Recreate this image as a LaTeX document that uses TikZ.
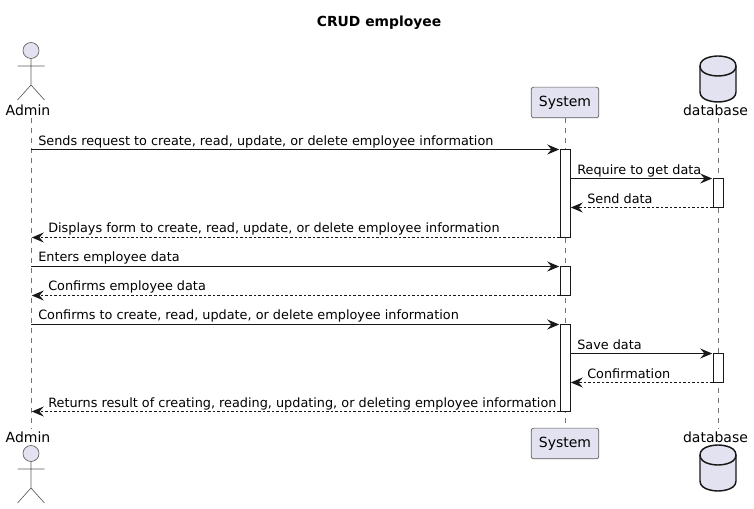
\documentclass[tikz,border=0pt]{standalone}
\usepackage{fontspec}
\setmainfont{DejaVu Sans}
\usetikzlibrary{arrows.meta}
\definecolor{partfill}{HTML}{E2E2F0}
\definecolor{partline}{HTML}{181818}
\tikzset{
	lifeline/.style={draw=partline!60,line width=0.5pt,dash pattern=on 3.75pt off 3.75pt},
	msg/.style={draw=partline,line width=0.75pt,-{Stealth[length=9pt,width=7.5pt,inset=3.2pt]},shorten >=0.6pt},
	reply/.style={msg,dash pattern=on 1.9pt off 1.5pt},
	msgtext/.style={anchor=base west,inner sep=0pt,font=\fontsize{9.62}{12}\selectfont,text=black},
	parttext/.style={inner sep=0pt,font=\fontsize{10.5}{12}\selectfont,text=black},
	sysbox/.style={draw=partline!70,line width=0.5pt,fill=partfill,rounded corners=1.8pt,minimum width=50.6pt,minimum height=23pt,inner sep=0pt,font=\fontsize{10.5}{12}\selectfont},
	actbox/.style={draw=partline,line width=0.75pt,fill=white,minimum width=7.5pt,inner sep=0pt,outer sep=0pt},
	admin/.pic={
		\draw[draw=partline!70,line width=0.5pt,fill=partfill] (0,0) circle [radius=6pt];
		\draw[draw=partline!70,line width=0.5pt] (0,8) -- (0,34.5) (-13.5,15.5) -- (13.5,15.5) (-13.5,49.5) -- (0,34.5) -- (13.5,49.5);
	},
	dbcyl/.pic={
		\draw[draw=partline,line width=1.1pt,fill=partfill] (-18,0) .. controls (-18,-10) and (0,-10) .. (0,-10) .. controls (0,-10) and (18,-10) .. (18,0) -- (18,26) .. controls (18,36) and (0,36) .. (0,36) .. controls (0,36) and (-18,36) .. (-18,26) -- cycle;
		\draw[draw=partline,line width=1.1pt] (-18,0) .. controls (-18,10) and (0,10) .. (0,10) .. controls (0,10) and (18,10) .. (18,0);
	}
}
\begin{document}
\begin{tikzpicture}[x=0.75pt,y=-0.75pt]
	\useasboundingbox (0,0) rectangle (754,509);
	
	\node[inner sep=0pt,font=\fontsize{10.4}{12}\selectfont\bfseries] (title) at (379,23) {CRUD employee};
	
	% lifelines
	\coordinate (adminTop) at (31,118);
	\coordinate (adminBot) at (31,429);
	\coordinate (systemTop) at (565,118);
	\coordinate (systemBot) at (565,428);
	\coordinate (dbTop) at (718,118);
	\coordinate (dbBot) at (718,429);
	\draw[lifeline] (adminTop) -- (adminBot);
	\draw[lifeline] (systemTop) -- (systemBot);
	\draw[lifeline] (dbTop) -- (dbBot);
	
	% participants
	\pic at (31,50.5) {admin};
	\node[parttext] (adminHead) at (28,110) {Admin};
	\pic at (31,453.5) {admin};
	\node[parttext] (adminFoot) at (28,437) {Admin};
	\node[sysbox] (systemHead) at (565,102.5) {System};
	\node[sysbox] (systemFoot) at (565,443.5) {System};
	\pic at (718,66) {dbcyl};
	\node[parttext] (dbHead) at (715.5,110) {database};
	\pic at (718,455) {dbcyl};
	\node[parttext] (dbFoot) at (715.5,437) {database};
	
	% activations
	\node[actbox,minimum height=66pt] (sysA) at (565,193.5) {};
	\node[actbox,minimum height=21.75pt] (sysB) at (565,281) {};
	\node[actbox,minimum height=65.25pt] (sysC) at (565,368) {};
	\node[actbox,minimum height=21.75pt] (dbA) at (718,193) {};
	\node[actbox,minimum height=21.75pt] (dbB) at (718,368) {};
	
	% message ends
	\coordinate (ad1) at (adminTop |- sysA.north);
	\coordinate (ad2) at (adminTop |- sysA.south);
	\coordinate (ad3) at (adminTop |- sysB.north);
	\coordinate (ad4) at (adminTop |- sysB.south);
	\coordinate (ad5) at (adminTop |- sysC.north);
	\coordinate (ad6) at (adminTop |- sysC.south);
	\coordinate (sy1) at (sysA.east |- dbA.north);
	\coordinate (sy2) at (sysA.east |- dbA.south);
	\coordinate (sy3) at (sysC.east |- dbB.north);
	\coordinate (sy4) at (sysC.east |- dbB.south);
	
	% messages
	\draw[msg] (ad1) -- (sysA.north west);
	\node[msgtext] (m1) at (38,146) {Sends request to create, read, update, or delete employee information};
	\draw[msg] (sy1) -- (dbA.north west);
	\node[msgtext] (m2) at (577,175) {Require to get data};
	\draw[reply] (dbA.south west) -- (sy2);
	\node[msgtext] (m3) at (587,204) {Send data};
	\draw[reply] (sysA.south west) -- (ad2);
	\node[msgtext] (m4) at (48,233) {Displays form to create, read, update, or delete employee information};
	\draw[msg] (ad3) -- (sysB.north west);
	\node[msgtext] (m5) at (38,262) {Enters employee data};
	\draw[reply] (sysB.south west) -- (ad4);
	\node[msgtext] (m6) at (48,291) {Confirms employee data};
	\draw[msg] (ad5) -- (sysC.north west);
	\node[msgtext] (m7) at (38,320) {Confirms to create, read, update, or delete employee information};
	\draw[msg] (sy3) -- (dbB.north west);
	\node[msgtext] (m8) at (577,350) {Save data};
	\draw[reply] (dbB.south west) -- (sy4);
	\node[msgtext] (m9) at (587,379) {Confirmation};
	\draw[reply] (sysC.south west) -- (ad6);
	\node[msgtext] (m10) at (48,408) {Returns result of creating, reading, updating, or deleting employee information};
\end{tikzpicture}
\end{document}
